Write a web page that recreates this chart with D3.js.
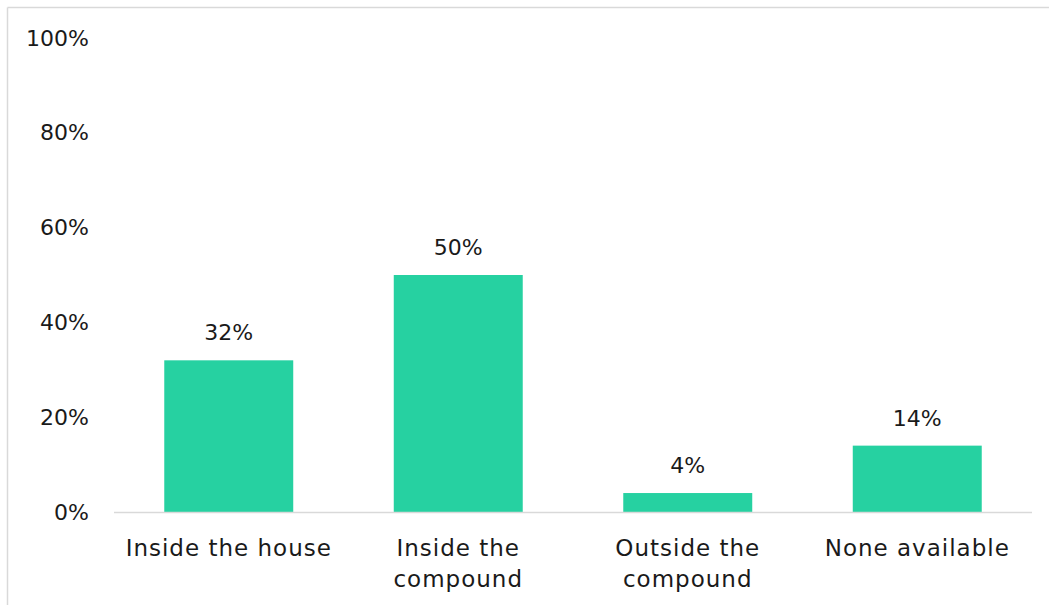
<!DOCTYPE html>
<html>
<head>
<meta charset="utf-8">
<script src="https://cdn.jsdelivr.net/npm/d3@7"></script>
<style>
  html, body { margin: 0; padding: 0; background: #ffffff; }
  svg text { font-family: "Century Gothic", "DejaVu Sans", sans-serif; fill: #1a1a1a; }
</style>
</head>
<body>
<svg id="chart" width="1049" height="605"></svg>
<script>
// Where the toilet facility is located
const categories = [["Inside the house"], ["Inside the", "compound"], ["Outside the", "compound"], ["None available"]];
const values = [32, 50, 4, 14];
const yTicks = [0, 20, 40, 60, 80, 100];

const svg = d3.select("#chart");
const W = 1049, H = 605;
const margin = { top: 38, right: 17, bottom: 93, left: 114 };

// chart frame (top and left edges)
svg.append("line").attr("x1", 7.5).attr("x2", W).attr("y1", 7.5).attr("y2", 7.5)
  .attr("stroke", "#d9d9d9").attr("stroke-width", 1.5);
svg.append("line").attr("x1", 7.5).attr("x2", 7.5).attr("y1", 7.5).attr("y2", H)
  .attr("stroke", "#d9d9d9").attr("stroke-width", 1.5);

const x = d3.scaleBand()
  .domain(d3.range(categories.length))
  .range([margin.left, W - margin.right])
  .paddingInner(0.438).paddingOuter(0.219);

const y = d3.scaleLinear().domain([0, 100]).range([H - margin.bottom, margin.top]);

// y axis labels only
const yAxis = d3.axisLeft(y).tickValues(yTicks).tickFormat(d => d + "%").tickSize(0).tickPadding(0);
const yG = svg.append("g").attr("transform", "translate(89,0)").call(yAxis);
yG.select(".domain").remove();
yG.selectAll("text").style("font-size", "22px").attr("fill", "#1a1a1a");

// bars
svg.selectAll("rect.bar").data(values).join("rect")
  .attr("class", "bar")
  .attr("x", (d, i) => x(i))
  .attr("width", x.bandwidth())
  .attr("y", d => y(d))
  .attr("height", d => y(0) - y(d))
  .attr("fill", "#26d1a1");

// baseline
svg.append("line")
  .attr("x1", margin.left).attr("x2", W - margin.right)
  .attr("y1", y(0) + 0.5).attr("y2", y(0) + 0.5)
  .attr("stroke", "#d9d9d9").attr("stroke-width", 1.5);

// value labels
svg.selectAll("text.val").data(values).join("text")
  .attr("class", "val")
  .attr("x", (d, i) => x(i) + x.bandwidth() / 2)
  .attr("y", d => y(d) - 20)
  .attr("text-anchor", "middle")
  .style("font-size", "22px")
  .text(d => d + "%");

// category labels
const cat = svg.selectAll("text.cat").data(categories).join("text")
  .attr("class", "cat")
  .attr("text-anchor", "middle")
  .style("font-size", "23px")
  .style("letter-spacing", "1px")
  .attr("transform", (d, i) => `translate(${x(i) + x.bandwidth() / 2},${y(0) + 44})`);
cat.selectAll("tspan").data(d => d).join("tspan")
  .attr("x", 0)
  .attr("dy", (d, j) => j === 0 ? 0 : 31)
  .text(d => d);
</script>
</body>
</html>
